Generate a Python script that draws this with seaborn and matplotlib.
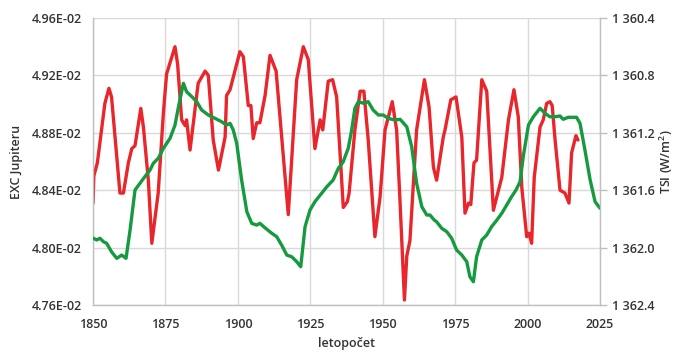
import matplotlib
matplotlib.use("Agg")
import matplotlib.pyplot as plt
import seaborn as sns
import pandas as pd
from matplotlib.ticker import FuncFormatter

# ---- data ----
red_years = [1850, 1850.3, 1851.5, 1854.1, 1855.5, 1856.4, 1859.3, 1860.5, 1862.2, 1863.4,
             1864.5, 1866.5, 1867.4, 1869.1, 1870.3, 1872.5, 1874.3, 1875.4, 1878.3, 1879.2,
             1880.6, 1881.8, 1882.3, 1883.5, 1886.3, 1888.7, 1889.8, 1891.5, 1893.3, 1895.6,
             1896.1, 1897.3, 1900.7, 1901.9, 1903.6, 1904.5, 1905.3, 1906.5, 1907.6, 1909.4,
             1911.1, 1913.2, 1917.4, 1920.3, 1922.6, 1924.3, 1926.6, 1928.4, 1929.3, 1931.2,
             1932.7, 1934.1, 1936.4, 1937.8, 1938.4, 1940.4, 1942.2, 1943.5, 1945.0, 1947.3,
             1949.1, 1950.8, 1953.3, 1954.8, 1956.0, 1957.5, 1958.3, 1959.4, 1961.7, 1964.4,
             1966.0, 1967.5, 1968.6, 1970.9, 1971.5, 1973.5, 1975.3, 1977.3, 1978.4, 1979.6,
             1980.4, 1981.5, 1982.4, 1984.2, 1985.9, 1988.2, 1991.1, 1993.4, 1995.3, 1996.8,
             1998.0, 1999.7, 2000.5, 2001.4, 2002.3, 2004.3, 2005.4, 2006.6, 2007.7, 2008.5,
             2009.5, 2011.2, 2012.9, 2014.3, 2015.2, 2016.7, 2017.4]
exc_values = [4.831, 4.850, 4.859, 4.9005, 4.911, 4.905, 4.838, 4.838, 4.859, 4.869,
              4.871, 4.897, 4.884, 4.847, 4.803, 4.838, 4.894, 4.921, 4.940, 4.928,
              4.889, 4.885, 4.889, 4.868, 4.9145, 4.923, 4.920, 4.875, 4.854, 4.877,
              4.906, 4.910, 4.9365, 4.933, 4.899, 4.899, 4.876, 4.887, 4.887, 4.906,
              4.934, 4.923, 4.823, 4.917, 4.940, 4.931, 4.869, 4.889, 4.882, 4.916,
              4.917, 4.905, 4.828, 4.832, 4.838, 4.882, 4.909, 4.909, 4.875, 4.8076,
              4.8355, 4.882, 4.9017, 4.882, 4.831, 4.7635, 4.794, 4.805, 4.882, 4.917,
              4.898, 4.856, 4.847, 4.877, 4.882, 4.903, 4.905, 4.877, 4.824, 4.831,
              4.830, 4.859, 4.861, 4.917, 4.909, 4.826, 4.849, 4.889, 4.910, 4.891,
              4.842, 4.8076, 4.810, 4.803, 4.849, 4.884, 4.889, 4.9005, 4.9017, 4.899,
              4.875, 4.840, 4.838, 4.831, 4.866, 4.878, 4.875]
exc_values = [v * 1e-2 for v in exc_values]

tsi_years = [1850.1, 1851.3, 1852.4, 1853.6, 1854.7, 1856.4, 1858.2, 1859.9, 1861.4, 1862.8,
             1864.5, 1866.2, 1867.9, 1869.7, 1870.8, 1872.5, 1874.3, 1876.6, 1878.3, 1879.4,
             1881.2, 1882.3, 1884.1, 1885.8, 1887.5, 1889.8, 1892.1, 1894.4, 1896.1, 1897.3,
             1898.4, 1899.6, 1901.3, 1903.1, 1904.8, 1906.5, 1907.6, 1909.6, 1911.7, 1913.4,
             1915.1, 1916.9, 1918.6, 1920.3, 1921.7, 1923.2, 1924.9, 1926.6, 1928.9, 1930.7,
             1932.9, 1934.7, 1936.4, 1937.0, 1938.1, 1939.3, 1940.4, 1941.6, 1943.3, 1945.0,
             1946.7, 1948.5, 1950.2, 1951.9, 1954.2, 1956.0, 1958.3, 1960.0, 1961.7, 1963.5,
             1965.2, 1966.3, 1967.8, 1968.6, 1970.4, 1972.1, 1973.8, 1975.5, 1977.3, 1979.0,
             1980.1, 1981.3, 1982.4, 1984.2, 1985.9, 1987.6, 1989.4, 1991.1, 1992.8, 1994.5,
             1996.0, 1997.4, 1998.5, 2000.3, 2002.0, 2004.3, 2006.0, 2007.7, 2009.5, 2011.2,
             2012.3, 2014.0, 2016.9, 2018.1, 2019.8, 2021.6, 2023.3, 2025.0]
tsi_values = [1361.935, 1361.947, 1361.935, 1361.959, 1361.970, 1362.029, 1362.075, 1362.052, 1362.075, 1361.877,
              1361.599, 1361.552, 1361.506, 1361.459, 1361.413, 1361.378, 1361.308, 1361.238, 1361.146, 1361.030,
              1360.855, 1360.914, 1360.948, 1360.983, 1361.041, 1361.076, 1361.099, 1361.123, 1361.146, 1361.134,
              1361.180, 1361.273, 1361.529, 1361.750, 1361.831, 1361.843, 1361.831, 1361.866, 1361.900, 1361.924,
              1361.982, 1362.052, 1362.064, 1362.098, 1362.133, 1361.854, 1361.738, 1361.680, 1361.622, 1361.576,
              1361.529, 1361.447, 1361.401, 1361.367, 1361.308, 1361.180, 1361.029, 1360.983, 1360.994, 1360.983,
              1361.041, 1361.076, 1361.076, 1361.099, 1361.111, 1361.106, 1361.158, 1361.297, 1361.552, 1361.715,
              1361.773, 1361.773, 1361.808, 1361.820, 1361.866, 1361.889, 1361.935, 1362.017, 1362.052, 1362.098,
              1362.203, 1362.238, 1362.064, 1361.947, 1361.912, 1361.854, 1361.808, 1361.761, 1361.703, 1361.645,
              1361.599, 1361.541, 1361.367, 1361.146, 1361.088, 1361.029, 1361.064, 1361.088, 1361.088, 1361.083,
              1361.106, 1361.092, 1361.092, 1361.134, 1361.320, 1361.529, 1361.680, 1361.726]

x_ticks = [1850, 1875, 1900, 1925, 1950, 1975, 2000, 2025]
left_ticks = [0.0476, 0.0480, 0.0484, 0.0488, 0.0492, 0.0496]
right_ticks = [1360.4, 1360.8, 1361.2, 1361.6, 1362.0, 1362.4]

x_label = "letopočet"
left_label = "EXC Jupiteru"
right_label = "TSI (W/m$^2$)"

# ---- style ----
sns.set_style("white")
plt.rcParams['font.family'] = ['Open Sans', 'DejaVu Sans']
plt.rcParams['mathtext.fontset'] = 'custom'
plt.rcParams['mathtext.rm'] = 'Open Sans'
plt.rcParams['mathtext.default'] = 'regular'
tick_color = "#333333"
grid_color = "#d9d9d9"
spine_color = "#bfbfbf"
red = "#e8262b"
green = "#169a3f"

df_exc = pd.DataFrame({"year": red_years, "exc": exc_values})
df_tsi = pd.DataFrame({"year": tsi_years, "tsi": tsi_values})

fig = plt.figure(figsize=(6.78, 3.54), dpi=100)
ax = fig.add_axes([93/678, 1 - 305/354, (600-93)/678, (305-18)/354])
ax2 = ax.twinx()

sns.lineplot(data=df_exc, x="year", y="exc", ax=ax, color=red, linewidth=2.4,
             sort=False, estimator=None)
sns.lineplot(data=df_tsi, x="year", y="tsi", ax=ax2, color=green, linewidth=2.4,
             sort=False, estimator=None)

ax.set_xlim(1850, 2025)
ax.set_ylim(0.0476, 0.0496)
ax.set_xticks(x_ticks)
ax.set_yticks(left_ticks)
ax.yaxis.set_major_formatter(FuncFormatter(lambda v, p: f"{v*100:.2f}E-02"))
ax2.set_ylim(1362.4, 1360.4)
ax2.set_yticks(right_ticks)
ax2.yaxis.set_major_formatter(FuncFormatter(lambda v, p: f"{v:,.1f}".replace(",", " ")))

ax.grid(True, color=grid_color, linewidth=1.0)
ax.set_axisbelow(True)
ax2.grid(False)

for a in (ax, ax2):
    for s in a.spines.values():
        s.set_visible(False)
ax.spines['left'].set_visible(True)
ax.spines['bottom'].set_visible(True)
ax2.spines['right'].set_visible(True)
for s in (ax.spines['left'], ax.spines['bottom'], ax2.spines['right']):
    s.set_color(spine_color)
    s.set_linewidth(1.0)

ax.tick_params(axis='y', length=0, pad=8, labelsize=9, colors=tick_color)
ax.tick_params(axis='x', length=0, pad=9, labelsize=9, colors=tick_color)
ax2.tick_params(axis='y', length=5, width=1, color=spine_color, pad=4, labelsize=9,
                labelcolor=tick_color)
for lab in ax.get_xticklabels() + ax.get_yticklabels() + ax2.get_yticklabels():
    lab.set_fontweight('semibold')

ax.set_xlabel(x_label, fontsize=9, color=tick_color, labelpad=5, fontweight='semibold')
ax.set_ylabel(left_label, fontsize=9, color=tick_color, labelpad=6, fontweight='semibold')
ax2.set_ylabel(right_label, fontsize=9, color=tick_color, labelpad=2, rotation=90,
               fontweight='semibold')

fig.savefig("out.png", dpi=100, facecolor="white")
